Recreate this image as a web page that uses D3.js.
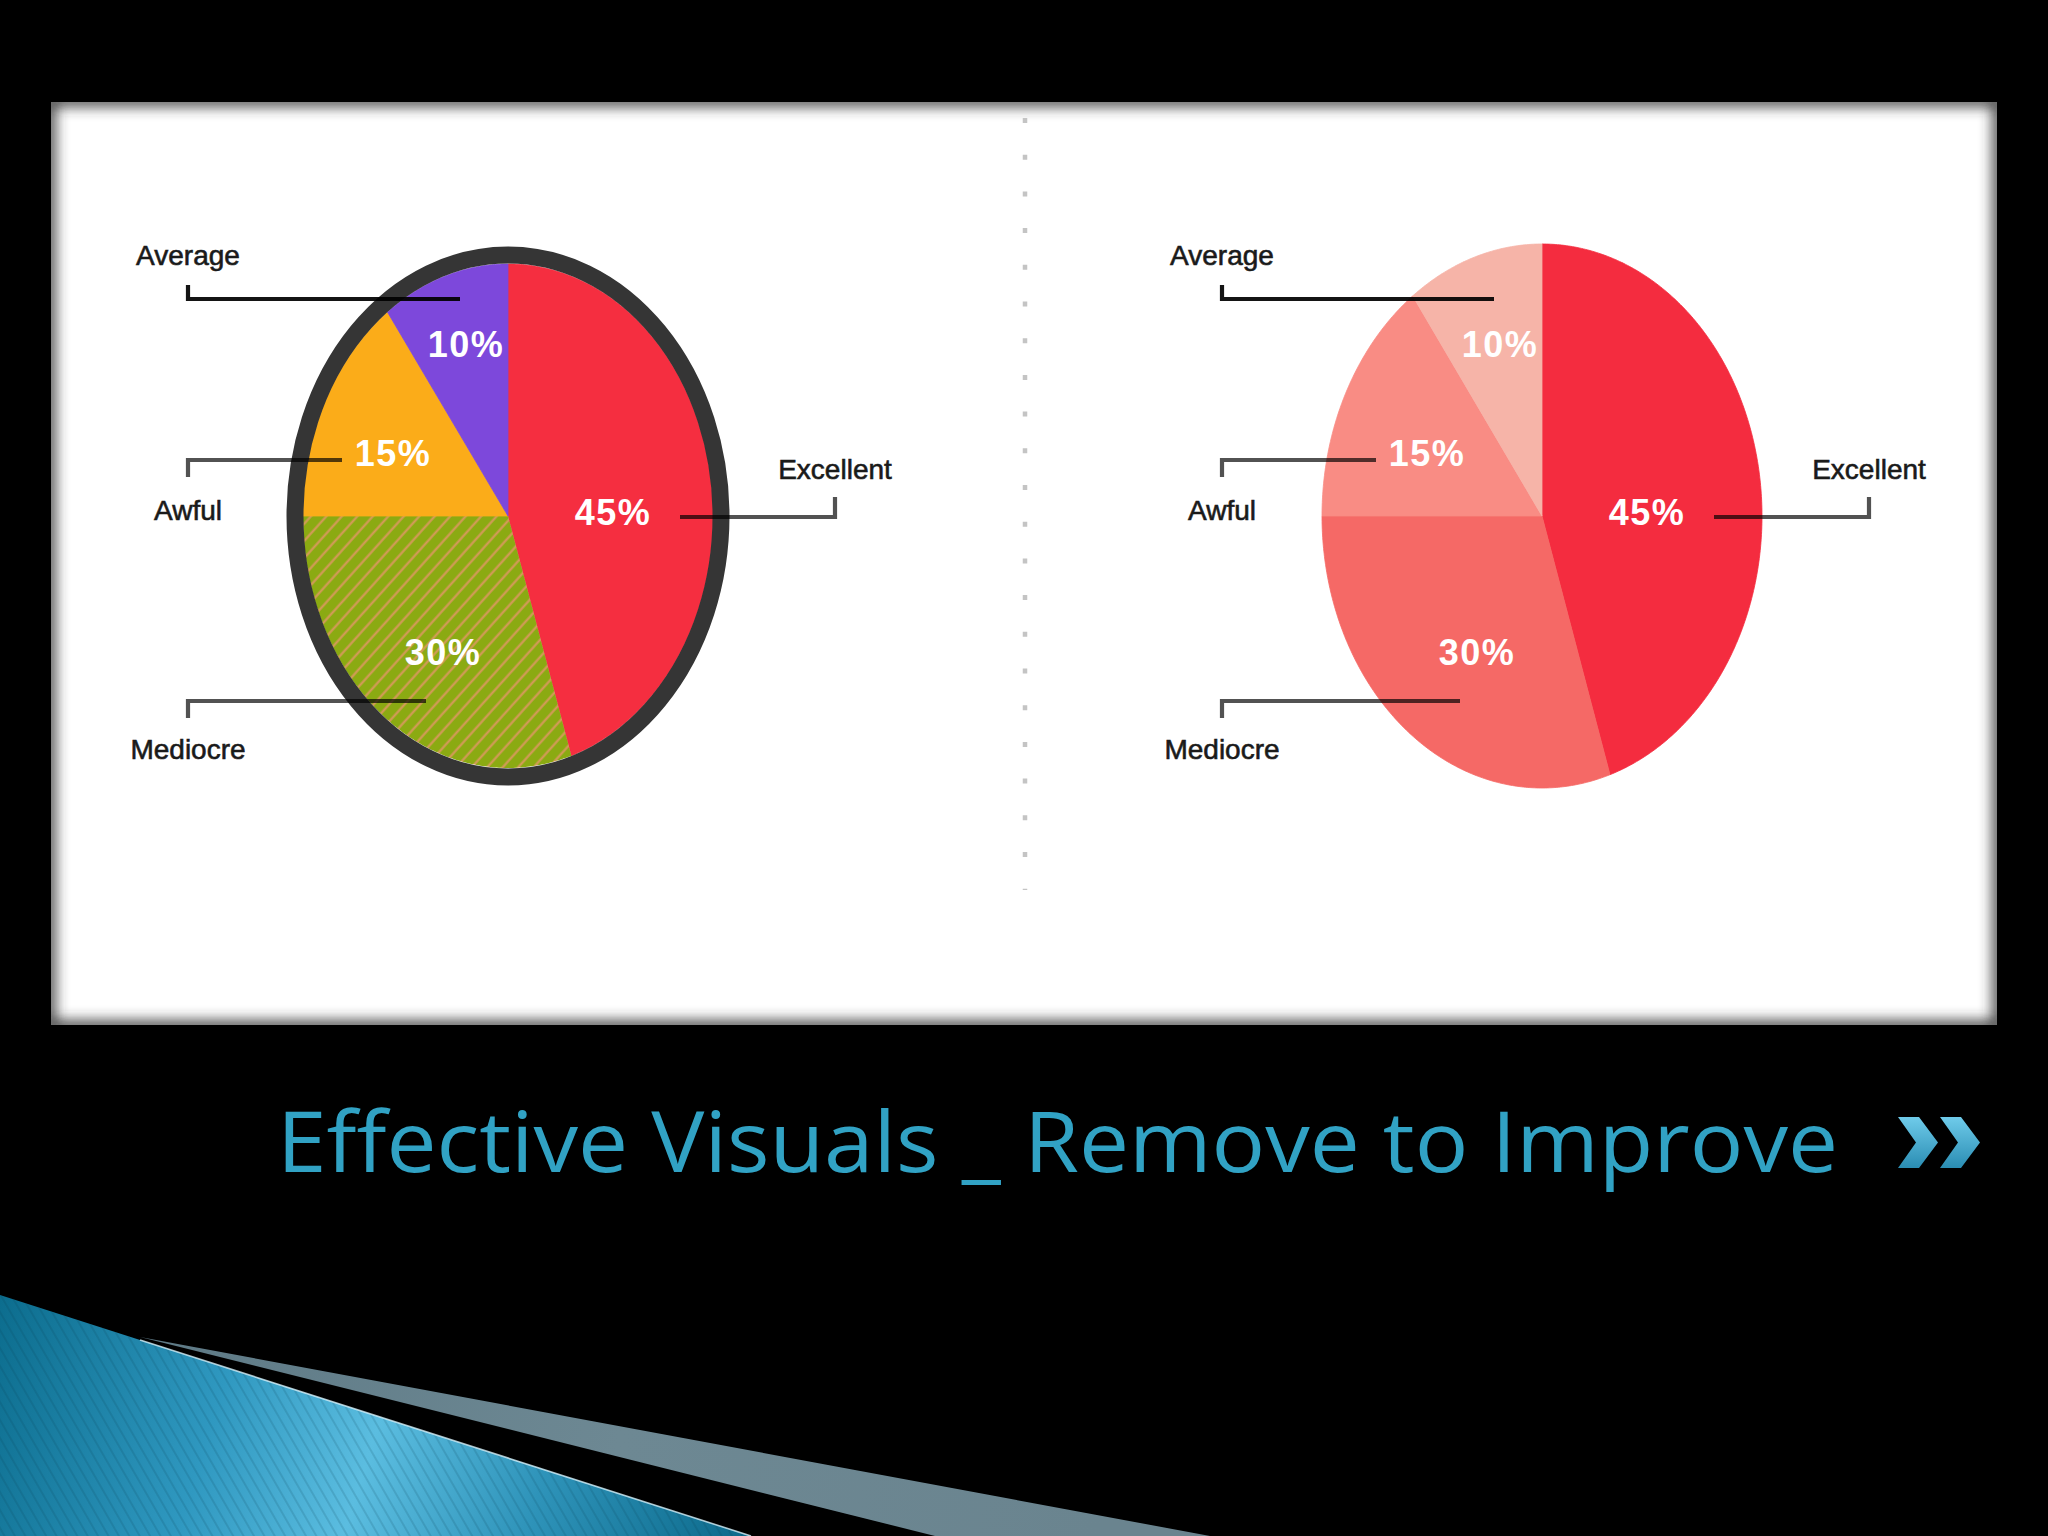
<!DOCTYPE html>
<html>
<head>
<meta charset="utf-8">
<script src="https://cdn.jsdelivr.net/npm/d3@7"></script>
<style>
  html, body { margin: 0; padding: 0; background: #000; }
  svg { display: block; }
</style>
</head>
<body>
<svg id="chart" width="2048" height="1536"></svg>
<script>
// ---------------- DATA ----------------
const categories = ["Excellent", "Mediocre", "Awful", "Average"];
const values = [45, 30, 15, 10];
const percentLabels = ["45%", "30%", "15%", "10%"];
const titleText = "Effective Visuals _ Remove to Improve";

// ---------------- STYLE / LAYOUT ----------------
const leftFills = ["#F52E40", "url(#hatch)", "#FBAC19", "#7D48DB"];
const rightFills = ["#F42C3F", "#F56966", "#F98C84", "#F6B4A8"];

const W = 2048, H = 1536;
const panel = { x: 51, y: 102, w: 1946, h: 923 };
const leftCenter = { x: 508, y: 516 };
const rightCenter = { x: 1542, y: 516 };

// percent label positions relative to pie centre (baseline)
const pctOffsets = { Excellent: [105, 9], Mediocre: [-65, 149], Awful: [-115, -50], Average: [-42, -159] };
// callout text + leader layout relative to pie centre
const callouts = {
  Average:   { tx: -320, ty: -251, path: [[-320, -231], [-320, -217], [-48, -217]], dark: true },
  Awful:     { tx: -320, ty: 4,    path: [[-320, -39], [-320, -56], [-166, -56]] },
  Mediocre:  { tx: -320, ty: 243,  path: [[-320, 202], [-320, 185], [-82, 185]] },
  Excellent: { tx: 327,  ty: -37,  path: [[327, -19], [327, 1], [172, 1]] }
};

const svg = d3.select("#chart");
const defs = svg.append("defs");

// background
svg.append("rect").attr("width", W).attr("height", H).attr("fill", "#000");

// ---- defs ----
const hs = 11.5;
const hatch = defs.append("pattern").attr("id", "hatch")
  .attr("patternUnits", "userSpaceOnUse").attr("width", hs).attr("height", hs)
  .attr("patternTransform", "rotate(42)");
hatch.append("rect").attr("width", hs).attr("height", hs).attr("fill", "#8BAA12");
hatch.append("line").attr("x1", 1.5).attr("y1", 0).attr("x2", 1.5).attr("y2", hs)
  .attr("stroke", "#D7995C").attr("stroke-width", 2.1);

defs.append("clipPath").attr("id", "panelClip").append("rect")
  .attr("x", panel.x).attr("y", panel.y).attr("width", panel.w).attr("height", panel.h);
const blur = defs.append("filter").attr("id", "innerBlur").attr("x", "-5%").attr("y", "-5%").attr("width", "110%").attr("height", "110%");
blur.append("feGaussianBlur").attr("stdDeviation", 7);

const blueGrad = defs.append("linearGradient").attr("id", "blueGrad")
  .attr("gradientUnits", "userSpaceOnUse").attr("x1", 0).attr("y1", 1300).attr("x2", 760).attr("y2", 1536);
[[0, "#0C6D8E"], [0.3, "#2F98C0"], [0.5, "#5BBDE0"], [0.72, "#2E93B9"], [1, "#0A6788"]]
  .forEach(([o, c]) => blueGrad.append("stop").attr("offset", o).attr("stop-color", c));
const grayGrad = defs.append("linearGradient").attr("id", "grayGrad")
  .attr("gradientUnits", "userSpaceOnUse").attr("x1", 140).attr("y1", 1337).attr("x2", 1100).attr("y2", 1536);
[[0, "#5E7A86"], [0.5, "#6D8893"], [1, "#6A848F"]]
  .forEach(([o, c]) => grayGrad.append("stop").attr("offset", o).attr("stop-color", c));
const stripes = defs.append("pattern").attr("id", "bluestripes")
  .attr("patternUnits", "userSpaceOnUse").attr("width", 9).attr("height", 9)
  .attr("patternTransform", "rotate(-30)");
stripes.append("line").attr("x1", 1).attr("y1", 0).attr("x2", 1).attr("y2", 9)
  .attr("stroke", "#04394d").attr("stroke-width", 1.2).attr("stroke-opacity", 0.25);
const chevGrad = defs.append("linearGradient").attr("id", "chevGrad")
  .attr("x1", 0).attr("y1", 0).attr("x2", 0).attr("y2", 1);
[[0, "#6FCBEA"], [1, "#2A8DB3"]].forEach(([o, c]) => chevGrad.append("stop").attr("offset", o).attr("stop-color", c));

// ---- white panel with inner shadow ----
svg.append("rect").attr("x", panel.x).attr("y", panel.y).attr("width", panel.w).attr("height", panel.h).attr("fill", "#fff");
svg.append("g").attr("clip-path", "url(#panelClip)")
  .append("rect").attr("x", panel.x - 2).attr("y", panel.y - 2).attr("width", panel.w + 4).attr("height", panel.h + 4)
  .attr("fill", "none").attr("stroke", "#333").attr("stroke-width", 12).attr("filter", "url(#innerBlur)");

// dotted divider
svg.append("line").attr("x1", 1025).attr("x2", 1025).attr("y1", 118).attr("y2", 890)
  .attr("stroke", "#c4c4c4").attr("stroke-width", 4.5).attr("stroke-dasharray", "5 31.7");

// ---- pies ----
const pie = d3.pie().sort(null).value(d => d);
const arcs = pie(values);
const line = d3.line();

function ellipseSlice(a0, a1, c, rx, ry) {
  const n = Math.max(4, Math.ceil((a1 - a0) / 0.01));
  const pts = [[c.x, c.y]];
  d3.range(n + 1).forEach(i => {
    const a = a0 + (a1 - a0) * i / n;
    pts.push([c.x + rx * Math.sin(a), c.y - ry * Math.cos(a)]);
  });
  return line(pts) + "Z";
}

function drawPie(c, rx, ry, fills, border) {
  const g = svg.append("g");
  g.selectAll("path.slice").data(arcs).join("path")
    .attr("class", "slice")
    .attr("d", d => ellipseSlice(d.startAngle, d.endAngle, c, rx, ry))
    .attr("fill", (d, i) => fills[i])
    .attr("stroke", (d, i) => fills[i].startsWith("url") ? "none" : fills[i])
    .attr("stroke-width", 0.8);
  if (border) {
    g.append("ellipse").attr("cx", c.x).attr("cy", c.y)
      .attr("rx", rx + 8).attr("ry", ry + 9)
      .attr("fill", "none").attr("stroke", "#353535").attr("stroke-width", 17);
  }
  // callouts
  categories.forEach((cat, i) => {
    const co = callouts[cat];
    g.append("path")
      .attr("d", line(co.path.map(p => [c.x + p[0], c.y + p[1]])))
      .attr("fill", "none").attr("stroke", "#000")
      .attr("stroke-opacity", co.dark ? 0.92 : 0.68)
      .attr("stroke-width", 4.2);
    g.append("text")
      .attr("x", c.x + co.tx).attr("y", c.y + co.ty)
      .attr("text-anchor", "middle")
      .attr("font-family", "'Liberation Sans', Arial, sans-serif")
      .attr("font-size", 28).attr("fill", "#1a1a1a")
      .attr("stroke", "#1a1a1a").attr("stroke-width", 0.6)
      .text(cat);
  });
  // percentages
  arcs.forEach((d, i) => {
    const off = pctOffsets[categories[i]];
    g.append("text")
      .attr("x", c.x + off[0]).attr("y", c.y + off[1])
      .attr("text-anchor", "middle")
      .attr("font-family", "'Liberation Sans', Arial, sans-serif")
      .attr("font-weight", "bold").attr("font-size", 36)
      .attr("letter-spacing", 1.5)
      .attr("fill", "#fff")
      .text(percentLabels[i]);
  });
}

drawPie(leftCenter, 205, 252, leftFills, true);
drawPie(rightCenter, 220, 272, rightFills, false);

// ---- bottom decoration ----
const deco = svg.append("g");
deco.append("path").attr("d", line([[0, 1295], [751, 1536], [0, 1536]]) + "Z").attr("fill", "url(#blueGrad)");
deco.append("path").attr("d", line([[0, 1295], [751, 1536], [0, 1536]]) + "Z").attr("fill", "url(#bluestripes)");
deco.append("path").attr("d", line([[140, 1337], [1210, 1536], [935, 1536]]) + "Z").attr("fill", "url(#grayGrad)");
deco.append("line").attr("x1", 140).attr("y1", 1340).attr("x2", 751).attr("y2", 1536)
  .attr("stroke", "#d8f2fb").attr("stroke-width", 1.6).attr("stroke-opacity", 0.8);

// ---- title ----
svg.append("text")
  .attr("x", 277).attr("y", 1172)
  .attr("font-family", "'Open Sans', 'DejaVu Sans', sans-serif")
  .attr("font-size", 84)
  .attr("fill", "#31A2C4")
  .attr("textLength", 1561).attr("lengthAdjust", "spacingAndGlyphs")
  .text(titleText);

// chevrons
const chev = (x0) => line([[x0, 1117], [x0 + 21, 1117], [x0 + 40, 1142.5], [x0 + 21, 1168], [x0, 1168], [x0 + 18, 1142.5]]) + "Z";
svg.append("path").attr("d", chev(1898)).attr("fill", "url(#chevGrad)");
svg.append("path").attr("d", chev(1940)).attr("fill", "url(#chevGrad)");
</script>
</body>
</html>
